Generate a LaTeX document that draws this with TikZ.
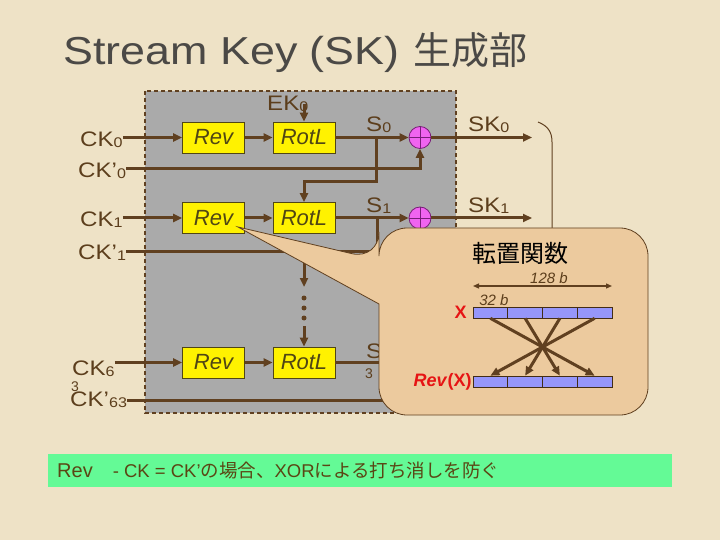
\documentclass[tikz,border=0pt]{standalone}
\usepackage{fontspec}
\setmainfont{Liberation Sans}
\newfontfamily\widesans[FakeStretch=1.15]{Liberation Sans}
\newfontfamily\jpfont{Noto Sans CJK JP}
\usetikzlibrary{arrows.meta,positioning}

\definecolor{paper}{RGB}{238,226,198}
\definecolor{wirec}{RGB}{96,64,32}
\definecolor{labc}{RGB}{92,62,28}
\definecolor{blktext}{RGB}{80,70,20}
\definecolor{boxgray}{RGB}{170,170,170}
\definecolor{xorc}{RGB}{240,100,240}
\definecolor{xorline}{RGB}{120,30,120}
\definecolor{tanc}{RGB}{236,202,158}
\definecolor{regc}{RGB}{150,150,250}
\definecolor{notec}{RGB}{100,250,150}
\definecolor{notetext}{RGB}{90,70,20}
\definecolor{titlec}{RGB}{75,73,70}
\definecolor{revred}{RGB}{230,20,20}

\newcommand\lowsub[1]{\raisebox{-1pt}{\fontsize{14}{14}\selectfont #1}}

\tikzset{
  wire/.style={draw=wirec, line width=3pt},
  feed/.style={wire, -{Triangle[length=9pt,width=8pt]}},
  frame/.style={draw=wirec, line width=1.5pt, dash pattern=on 4pt off 3pt, fill=boxgray},
  blk/.style={draw=blktext, line width=0.8pt, fill=yellow, minimum width=62pt,
    minimum height=31pt, inner sep=0pt, text=blktext,
    font=\fontsize{22}{22}\selectfont\itshape},
  xorgate/.style={circle, draw=xorline, line width=0.8pt, fill=xorc, minimum size=22pt,
    inner sep=0pt, path picture={
      \draw[xorline, line width=0.8pt]
        (path picture bounding box.north) -- (path picture bounding box.south)
        (path picture bounding box.west) -- (path picture bounding box.east);}},
  sig/.style={text=labc, inner sep=0pt, font=\widesans\fontsize{21}{21}\selectfont},
  callout/.style={fill=tanc, draw=wirec, line width=0.8pt},
  cell/.style={draw=wirec!70!black, line width=0.6pt, fill=regc, minimum width=34.75pt,
    minimum height=11pt, inner sep=0pt},
}

\begin{document}
\begin{tikzpicture}[x=1pt,y=-1pt]
% Spalten
\def\rv{213.5}  % Rev
\def\rl{304}    % RotL
\def\xc{420}    % XOR

% Hintergrund
\fill[paper] (0,0) rectangle (720,540);
\useasboundingbox (0,0) rectangle (720,540);

% Titel
\node[anchor=base west, inner sep=0pt, text=titlec, font=\widesans\fontsize{39}{39}\selectfont]
  (title) at (63,65) {Stream Key (SK)\hspace{14pt}{\jpfont\fontsize{38}{38}\selectfont 生成部}};

% Rahmen
\draw[frame] (145,91) rectangle (456,413);

% Bloecke
\node[blk] (rev0) at (\rv,137.5) {Rev};
\node[blk] (rotl0) at (\rl,137.5) {RotL};
\node[blk] (rev1) at (\rv,218) {Rev};
\node[blk] (rotl1) at (\rl,218) {RotL};
\node[blk] (rev2) at (\rv,362.5) {Rev};
\node[blk] (rotl2) at (\rl,362.5) {RotL};
\node[xorgate] (xor0) at (\xc,137.5) {};
\node[xorgate] (xor1) at (\xc,218) {};

% Eingaenge
\node[sig, anchor=base west] (ck0) at (80,147) {CK\lowsub{0}};
\node[sig, anchor=base west] (ckp0) at (78,178) {CK’\lowsub{0}};
\node[sig, anchor=base west] (ck1) at (80,226) {CK\lowsub{1}};
\node[sig, anchor=base west] (ckp1) at (78,259) {CK’\lowsub{1}};
\node[sig, anchor=base west] (ck2) at (72,375) {CK\lowsub{6}};
\node[sig, anchor=base west] (ckp2) at (70,406) {CK’\lowsub{63}};
\node[text=labc, inner sep=0pt, font=\fontsize{14}{14}\selectfont] (stray) at (75,387) {3};
\node[sig, anchor=base west] (ek0) at (267,111) {EK\lowsub{0}};

% Ausgaenge
\node[sig, anchor=base west] (s0) at (366,132) {S\lowsub{0}};
\node[sig, anchor=base west] (s1) at (366,213) {S\lowsub{1}};
\node[sig, anchor=base west] (s2) at (366,358) {S};
\node[text=labc, inner sep=0pt, font=\fontsize{14}{14}\selectfont] (s2b) at (369,374) {3};
\node[sig, anchor=base west] (sk0) at (468,132) {SK\lowsub{0}};
\node[sig, anchor=base west] (sk1) at (468,213) {SK\lowsub{1}};

% Hilfspunkte
\coordinate (j0) at (\xc,169);
\coordinate (j1) at (\xc,251);
\coordinate (j2) at (400,400);
\coordinate (b0) at (376,137.5);
\coordinate (b1) at (377,218);
\coordinate (fb1) at (\rl,287);
\coordinate (fb2) at (\rl,326);
\coordinate (o2) at (400,362.5);
\coordinate (sk0e) at (532,137.5);
\coordinate (sk1e) at (532,218);

% Leitungen
\draw[feed] (ck0.east |- rev0.west) -- (rev0.west);
\draw[feed] (ck1.east |- rev1.west) -- (rev1.west);
\draw[feed] (ck2.east |- rev2.west) -- (rev2.west);
\draw[feed] (rev0) -- (rotl0);
\draw[feed] (rev1) -- (rotl1);
\draw[feed] (rev2) -- (rotl2);
\draw[feed] (rotl0.north |- ek0.center) -- (rotl0.north);
\draw[feed] (rotl0) -- (xor0);
\draw[feed] (rotl1) -- (xor1);
\draw[wire] (rotl2) -- (o2);
\draw[feed] (ckp0.east |- j0) -- (j0) -- (xor0.south);
\draw[feed] (ckp1.east |- j1) -- (j1) -- (xor1.south);
\draw[wire] (ckp2.east |- j2) -- (j2);
\draw[feed] (b0) -- ++(0,44.5) -| (rotl1.north);
\draw[feed] (b1) -- ++(0,44) -| (fb1);
\foreach \y in {298,308,318}{
  \fill[wirec] (\rl,\y) circle (2.5pt);
}
\draw[feed] (fb2) -- (rotl2.north);
\draw[feed] (xor0) -- (sk0e);
\draw[feed] (xor1) -- (sk1e);

% Klammer rechts
\draw[wirec, line width=1pt] (538,122) .. controls (548,126) and (552,132) .. (552,142) -- (552,228);

% Sprechblase
\path[callout] (379,304) [rounded corners=28pt] -- (379,415) -- (648,415) -- (648,228)
  -- (379,228) -- (379,260) [sharp corners] -- (238,227) -- cycle;

\node[inner sep=0pt, font=\jpfont\fontsize{24}{24}\selectfont] (tp) at (520,253) {転置関数};
\node[inner sep=0pt, text=labc, font=\fontsize{15}{15}\selectfont\itshape] (w128) at (549,278) {128 b};
\node[inner sep=0pt, text=labc, font=\fontsize{15}{15}\selectfont\itshape] (w32) at (494,300) {32 b};
\foreach \i in {0,...,3}{
  \node[cell] (x\i) at (490.4+34.75*\i,312.5) {};
  \node[cell] (r\i) at (490.4+34.75*\i,381.5) {};
}
\coordinate (dl) at (473,286);
\coordinate (dr) at (612,286);
\draw[wirec, line width=1.3pt, {Triangle[length=6pt,width=5pt]}-{Triangle[length=6pt,width=5pt]}] (dl) -- (dr);
\foreach \i/\j in {0/3,1/2,2/1,3/0}{
  \draw[feed] (x\i.south) -- (r\j.north);
}
\node[inner sep=0pt, text=revred, font=\fontsize{18}{18}\selectfont\bfseries, left=6pt of x0] (xlab) {X};
\node[inner sep=0pt, text=revred, font=\fontsize{18}{18}\selectfont\bfseries, left=1pt of r0] (revx) {\textit{Rev}(X)};

% Hinweis
\fill[notec] (48,454) rectangle (672,487);
\node[anchor=base west, inner sep=0pt, text=notetext, font=\fontsize{18.5}{20}\selectfont]
  (note) at (57,477) {{\fontsize{20}{20}\selectfont Rev}\hspace{20pt}- CK = CK’{\jpfont の場合、}XOR{\jpfont による打ち消しを防ぐ}};
\end{tikzpicture}
\end{document}
